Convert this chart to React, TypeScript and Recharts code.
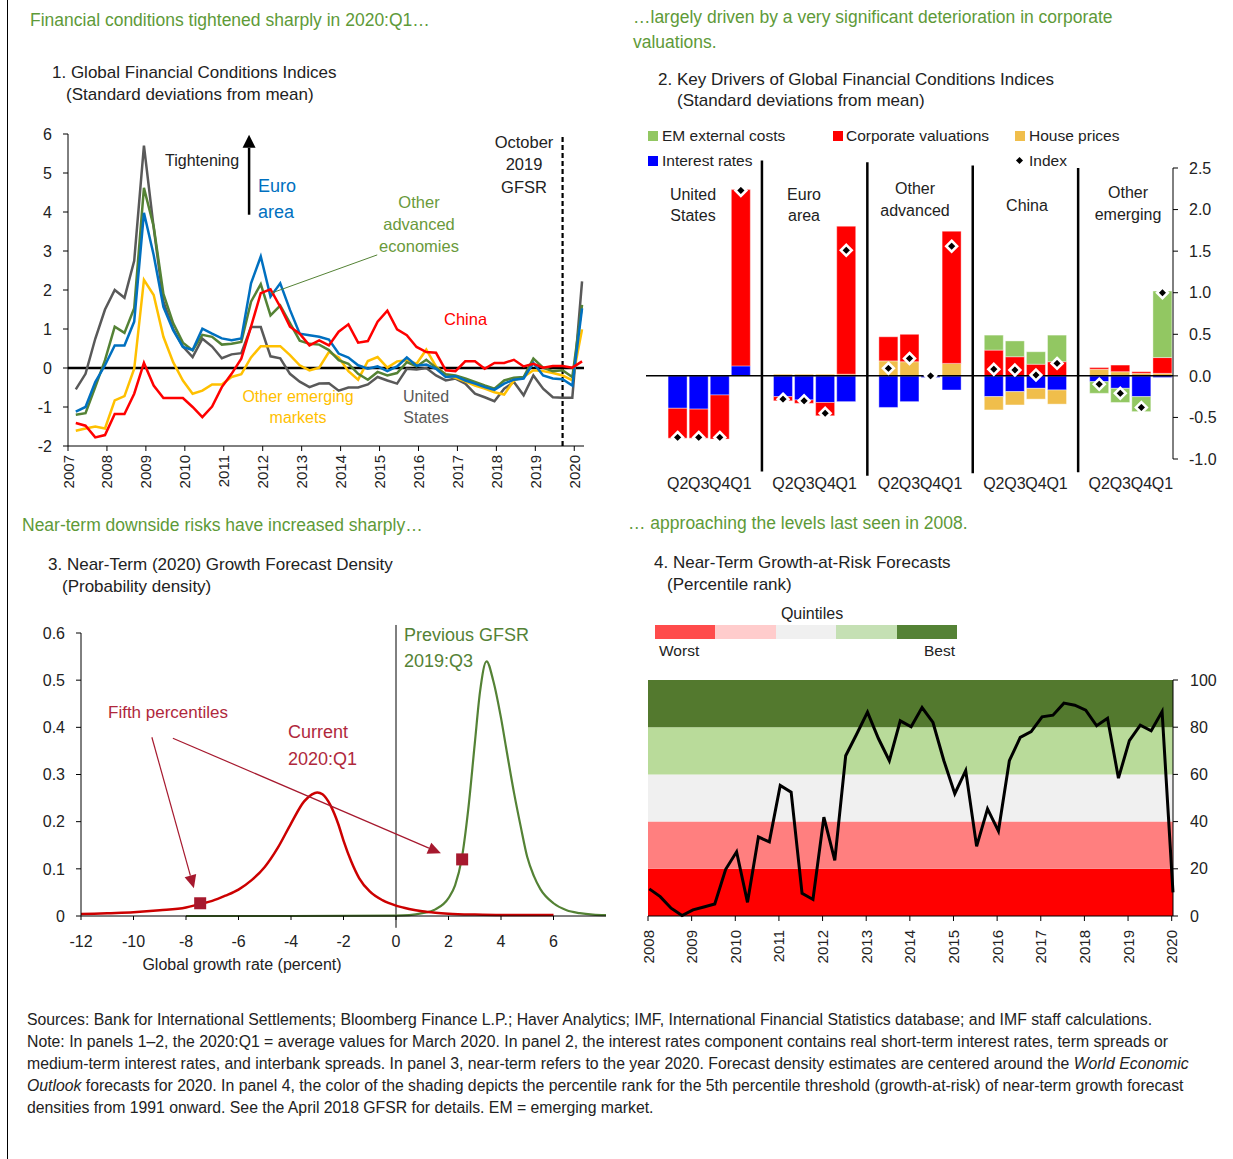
import React from "react";
import {
  ComposedChart,
  Line,
  Bar,
  Scatter,
  XAxis,
  YAxis,
  ReferenceLine,
  ReferenceArea,
} from "recharts";

const FONT = '"Liberation Sans", Arial, sans-serif';
const HEAD_GREEN = "#5E9A38";
const INK = "#222";

// ---------- Panel 1: FCIs, quarterly 2007:Q1 - 2020:Q1 ----------
const FCI_FIRST = 2007.2; // 2007:Q1 plotted at end of quarter
const fciUS = [
  -0.55, -0.15, 0.75, 1.5, 2.0, 1.8, 2.75, 5.7, 3.6, 1.7, 1.0, 0.55, 0.28, 0.75,
  0.55, 0.25, 0.35, 0.38, 1.05, 1.05, 0.3, 0.25, -0.15, -0.35, -0.49, -0.4, -0.39,
  -0.58, -0.5, -0.5, -0.42, -0.23, -0.32, -0.4, -0.02, -0.04, 0.0, -0.19, -0.32,
  -0.27, -0.4, -0.66, -0.75, -0.85, -0.53, -0.36, -0.7, -0.19, -0.53, -0.75, -0.76,
  -0.76, 2.22,
];
const fciEA = [
  -1.12, -1.0, -0.36, 0.07, 0.58, 0.58, 1.19, 3.98, 2.9, 1.57, 0.97, 0.54, 0.46,
  1.01, 0.88, 0.76, 0.71, 0.76, 2.17, 2.86, 1.83, 2.17, 1.49, 0.88, 0.84, 0.8, 0.73,
  0.37, 0.27, 0.07, -0.02, 0.04, -0.08, 0.04, 0.27, 0.06, 0.09, -0.02, -0.23, -0.21,
  -0.32, -0.4, -0.49, -0.56, -0.4, -0.3, -0.27, 0.13, -0.19, -0.27, -0.29, -0.45, 1.53,
];
const fciOA = [
  -1.2, -1.16, -0.49, 0.2, 1.06, 0.9, 1.53, 4.62, 3.63, 1.9, 1.15, 0.65, 0.45, 0.85,
  0.8, 0.6, 0.62, 0.67, 1.7, 2.15, 1.35, 1.6, 1.15, 0.7, 0.62, 0.6, 0.46, 0.2, 0.11,
  -0.15, -0.3, -0.1, -0.19, -0.13, 0.15, 0.04, 0.21, 0.01, -0.16, -0.19, -0.27,
  -0.36, -0.45, -0.53, -0.32, -0.25, -0.23, 0.24, 0.01, -0.08, -0.06, -0.23, 1.62,
];
const fciCN = [
  -1.41, -1.48, -1.78, -1.72, -1.18, -1.18, -0.66, 0.13, -0.45, -0.77, -0.77, -0.77,
  -1.0, -1.26, -0.99, -0.49, -0.15, 0.24, 1.06, 1.92, 2.02, 1.57, 1.06, 0.88, 0.58,
  0.71, 0.58, 0.93, 1.12, 0.65, 0.69, 1.19, 1.47, 0.99, 0.84, 0.54, 0.41, 0.39, -0.06,
  -0.08, 0.17, 0.17, -0.02, 0.13, 0.13, 0.21, 0.04, 0.11, 0.01, 0.05, 0.05, 0.01, 0.17,
];
const fciOEM = [
  -1.61, -1.55, -1.5, -1.55, -0.83, -0.72, -0.02, 2.26, 1.87, 0.8, 0.15, -0.32,
  -0.66, -0.58, -0.42, -0.42, -0.23, -0.16, 0.27, 0.56, 0.56, 0.56, 0.33, 0.07,
  -0.06, 0.01, 0.41, 0.27, -0.08, -0.3, 0.18, 0.28, 0.01, 0.17, 0.2, 0.11, 0.47,
  0.04, -0.17, -0.25, -0.34, -0.45, -0.53, -0.62, -0.68, -0.32, -0.23, -0.06, -0.08,
  -0.13, -0.19, -0.32, 0.99,
];
const fciYears = [2007, 2008, 2009, 2010, 2011, 2012, 2013, 2014, 2015, 2016, 2017, 2018, 2019, 2020];
const fciRows = fciUS.map((v, i) => ({
  t: FCI_FIRST + i * 0.25,
  us: v,
  ea: fciEA[i],
  oa: fciOA[i],
  cn: fciCN[i],
  oem: fciOEM[i],
}));

// ---------- Panel 2: drivers, Q2 2019 - Q1 2020 ----------
const driverGroups = ["US", "EA", "OA", "CN", "OEM"];
const driverQuarters = ["Q2", "Q3", "Q4", "Q1"];
const interestRates = [
  -0.39, -0.4, -0.23, 0.12, -0.25, -0.29, -0.32, -0.31, -0.38, -0.31, -0.02, -0.17,
  -0.25, -0.19, -0.15, -0.17, -0.07, -0.15, -0.25, -0.02,
];
const housePrices = [
  0, 0, 0, 0, 0.02, 0.02, 0.02, 0.02, 0.18, 0.17, 0, 0.15, -0.16, -0.16, -0.13, -0.17,
  0.08, 0.05, 0.03, 0.03,
];
const corpValuations = [
  -0.36, -0.35, -0.53, 2.12, -0.05, -0.04, -0.16, 1.78, 0.29, 0.33, 0.01, 1.59, 0.31,
  0.23, 0.14, 0.17, 0.02, 0.08, 0.02, 0.19,
];
const emExternal = [
  0, 0, 0, 0, 0, 0, 0, 0, 0, 0, 0, 0, 0.18, 0.19, 0.15, 0.32, -0.14, -0.17, -0.18, 0.8,
];
const fciIndex = [
  -0.74, -0.74, -0.74, 2.23, -0.28, -0.3, -0.45, 1.51, 0.09, 0.21, 0.0, 1.56, 0.08,
  0.07, 0.01, 0.15, -0.1, -0.21, -0.38, 1.0,
];
const driverTicks = [-1, -0.5, 0, 0.5, 1, 1.5, 2, 2.5];

const driverRows: any[] = [{ key: "pad", label: "" }];
driverGroups.forEach((g, gi) => {
  driverQuarters.forEach((q, qi) => {
    const i = gi * 4 + qi;
    driverRows.push({
      key: `${g}-${q}`,
      label: q,
      ir: interestRates[i],
      hp: housePrices[i],
      cv: corpValuations[i],
      em: emExternal[i],
      idx: fciIndex[i],
    });
  });
  if (gi < driverGroups.length - 1) driverRows.push({ key: `sep${gi}`, label: "" });
});
const sepTops = [2.59, 2.57, 2.53, 2.5];
const sepBottoms = [-1.15, -1.2, -1.17, -1.16];

// ---------- Panel 3: forecast densities ----------
const currentX = [
  -12, -11, -10, -9, -8, -7.5, -7, -6.5, -6, -5.5, -5, -4.5, -4, -3.5, -3.2, -3.0,
  -2.8, -2.5, -2.2, -2.0, -1.7, -1.4, -1.0, -0.5, 0, 0.5, 1, 1.5, 2, 3, 4, 5, 6,
];
const currentY = [
  0.004, 0.006, 0.008, 0.012, 0.018, 0.025, 0.032, 0.043, 0.056, 0.076, 0.104, 0.145,
  0.196, 0.243, 0.258, 0.262, 0.258, 0.235, 0.195, 0.16, 0.115, 0.08, 0.052, 0.033,
  0.022, 0.015, 0.01, 0.007, 0.005, 0.003, 0.002, 0.002, 0.002,
];
const previousX = [
  -8, -4, 0, 0.5, 1, 1.5, 2, 2.25, 2.5, 2.75, 3.0, 3.2, 3.45, 3.7, 4.0, 4.2, 4.5, 4.75,
  5.0, 5.25, 5.5, 6, 6.5, 7, 7.5, 8,
];
const previousY = [
  0, 0, 0.001, 0.002, 0.006, 0.014, 0.038, 0.065, 0.12, 0.225, 0.365, 0.475, 0.54, 0.5,
  0.42, 0.355, 0.26, 0.19, 0.125, 0.085, 0.057, 0.027, 0.012, 0.006, 0.003, 0.002,
];
const fifthX = [-7.46, 2.52];
const fifthY = [0.027, 0.12];
const densityXTicks = [-12, -10, -8, -6, -4, -2, 0, 2, 4, 6];
const densityYTicks = [0, 0.1, 0.2, 0.3, 0.4, 0.5, 0.6];

const currentRows = currentX.map((x, i) => ({ x, y: currentY[i] }));
const previousRows = previousX.map((x, i) => ({ x, y: previousY[i] }));
const fifthRows = fifthX.map((x, i) => ({ x, y: fifthY[i] }));

// ---------- Panel 4: growth-at-risk percentile rank, quarterly 2008:Q1 - 2020:Q1 ----------
const GAR_FIRST = 2008.03;
const garRank = [
  11.5, 8.2, 3.3, 0.2, 2.6, 3.8, 5.1, 19.8, 27.2, 5.8, 33.5, 31.4, 55.3, 52.5, 9.6, 7.0,
  41.9, 23.6, 67.9, 77, 86.4, 75.2, 65.8, 82.7, 80.2, 88.3, 82.0, 65.8, 51.8, 61.6, 29.5,
  45.4, 36.0, 65.8, 75.7, 78.1, 84.4, 85.1, 90.2, 89.3, 87.2, 80.6, 83.8, 58.4, 74.3,
  80.9, 78.5, 86.6, 10.0,
];
const garYears = [2008, 2009, 2010, 2011, 2012, 2013, 2014, 2015, 2016, 2017, 2018, 2019, 2020];
const quintileBands = [
  { from: 0, to: 20, color: "#FF0000" },
  { from: 20, to: 40, color: "#FF7F7F" },
  { from: 40, to: 60, color: "#F0F0F0" },
  { from: 60, to: 80, color: "#B9DB9A" },
  { from: 80, to: 100, color: "#53792E" },
];
const quintileLegend = ["#FF4B4B", "#FFCCCC", "#F0F0F0", "#C5E0B4", "#548235"];
const garRows = garRank.map((v, k) => ({ t: GAR_FIRST + k * 0.25, v }));

// ---------- helpers ----------
function T({ x, y, children, size = 16, color = INK, align = "left", style = {} }: any) {
  const shift = align === "center" ? "translateX(-50%)" : align === "right" ? "translateX(-100%)" : "none";
  return (
    <div
      style={{
        position: "absolute",
        left: x,
        top: y - size * 0.6,
        fontSize: size,
        lineHeight: `${size * 1.2}px`,
        color,
        whiteSpace: "nowrap",
        transform: shift,
        ...style,
      }}
    >
      {children}
    </div>
  );
}

const YearTick = ({ x, y, payload, dy = 4 }: any) => (
  <text
    transform={`translate(${x},${y + dy}) rotate(-90)`}
    textAnchor="end"
    dominantBaseline="central"
    fontSize={15}
    fill={INK}
  >
    {payload.value}
  </text>
);

const ArrowShape = ({ x1, y1, x2, y2, color = "#000", width = 1, hl = 12, hw = 6 }: any) => {
  if (x1 == null || x2 == null) return null;
  const dx = x2 - x1;
  const dy = y2 - y1;
  const len = Math.hypot(dx, dy) || 1;
  const ux = dx / len;
  const uy = dy / len;
  const bx = x2 - ux * hl;
  const by = y2 - uy * hl;
  const px = -uy * hw;
  const py = ux * hw;
  return (
    <g>
      <line x1={x1} y1={y1} x2={bx} y2={by} stroke={color} strokeWidth={width} />
      <polygon points={`${x2},${y2} ${bx + px},${by + py} ${bx - px},${by - py}`} fill={color} />
    </g>
  );
};

const Diamond = (props: any) => {
  const { cx, cy, value, index } = props;
  if (value == null || cy == null || Number.isNaN(cy)) return <g key={`dm-${index}`} />;
  const r = 5.4;
  return (
    <polygon
      key={`dm-${index}`}
      points={`${cx},${cy - r} ${cx + r},${cy} ${cx},${cy + r} ${cx - r},${cy}`}
      fill="#000"
      stroke="#fff"
      strokeWidth={2.6}
    />
  );
};

const Square = (props: any) => {
  const { cx, cy } = props;
  return <rect x={cx - 6} y={cy - 6} width={12} height={12} fill="#A6192E" />;
};

const QuarterTick = ({ x, y, payload }: any) => {
  const row = driverRows.find((r) => r.key === payload.value);
  return (
    <text x={x} y={y + 22} textAnchor="middle" fontSize={16} fill={INK}>
      {row ? row.label : ""}
    </text>
  );
};

export default function App() {
  return (
    <div
      style={{
        position: "absolute",
        left: 0,
        top: 0,
        width: 1233,
        height: 1159,
        background: "#fff",
        overflow: "hidden",
        fontFamily: FONT,
        color: INK,
      }}
    >
      <div style={{ position: "absolute", left: 7, top: 0, width: 1, height: 1159, background: "#000" }} />

      {/* headings */}
      <T x={30} y={20} size={17.5} color={HEAD_GREEN}>Financial conditions tightened sharply in 2020:Q1…</T>
      <T x={633} y={17} size={17.5} color={HEAD_GREEN}>…largely driven by a very significant deterioration in corporate</T>
      <T x={633} y={42} size={17.5} color={HEAD_GREEN}>valuations.</T>
      <T x={22} y={525} size={17.5} color={HEAD_GREEN}>Near-term downside risks have increased sharply…</T>
      <T x={628} y={523} size={17.5} color={HEAD_GREEN}>… approaching the levels last seen in 2008.</T>

      {/* panel titles */}
      <T x={52} y={73} size={17}>1. Global Financial Conditions Indices</T>
      <T x={66} y={95} size={17}>(Standard deviations from mean)</T>
      <T x={658} y={80} size={17}>2. Key Drivers of Global Financial Conditions Indices</T>
      <T x={677} y={101} size={17}>(Standard deviations from mean)</T>
      <T x={48} y={565} size={17}>3. Near-Term (2020) Growth Forecast Density</T>
      <T x={62} y={587} size={17}>(Probability density)</T>
      <T x={654} y={563} size={17}>4. Near-Term Growth-at-Risk Forecasts</T>
      <T x={667} y={585} size={17}>(Percentile rank)</T>

      {/* ---------- Panel 1 ---------- */}
      <div style={{ position: "absolute", left: 0, top: 0 }}>
        <ComposedChart width={600} height={500} data={fciRows} margin={{ top: 134, right: 16, left: 0, bottom: 0 }}>
          <XAxis
            dataKey="t"
            type="number"
            domain={[2007, 2020.25]}
            ticks={fciYears}
            interval={0}
            height={54}
            stroke="#000"
            tickSize={5}
            tick={(p: any) => <YearTick {...p} dy={2} />}
          />
          <YAxis
            domain={[-2, 6]}
            ticks={[-2, -1, 0, 1, 2, 3, 4, 5, 6]}
            interval={0}
            width={68}
            stroke="#000"
            tickSize={5}
            tickMargin={11}
            tick={{ fill: INK, fontSize: 16 }}
          />
          <ReferenceLine y={0} stroke="#000" strokeWidth={2.5} />
          <ReferenceLine x={2019.7} stroke="#000" strokeWidth={2.2} strokeDasharray="5 3" />
          <Line dataKey="us" stroke="#595959" strokeWidth={2.5} dot={false} isAnimationActive={false} />
          <Line dataKey="oem" stroke="#FFC000" strokeWidth={2.5} dot={false} isAnimationActive={false} />
          <Line dataKey="oa" stroke="#548235" strokeWidth={2.5} dot={false} isAnimationActive={false} />
          <Line dataKey="ea" stroke="#0070C0" strokeWidth={2.5} dot={false} isAnimationActive={false} />
          <Line dataKey="cn" stroke="#FF0000" strokeWidth={2.5} dot={false} isAnimationActive={false} />
          <ReferenceLine
            segment={[{ x: 2011.65, y: 3.93 }, { x: 2011.65, y: 5.98 }]}
            ifOverflow="visible"
            shape={(p: any) => <ArrowShape {...p} color="#000" width={2.5} hl={13} hw={6.5} />}
          />
          <ReferenceLine
            segment={[{ x: 2014.94, y: 2.9 }, { x: 2012.22, y: 1.92 }]}
            ifOverflow="visible"
            stroke="#548235"
            strokeWidth={1}
          />
        </ComposedChart>
      </div>
      <T x={165} y={161} size={16}>Tightening</T>
      <T x={258} y={187} size={18} color="#0070C0">Euro</T>
      <T x={258} y={213} size={18} color="#0070C0">area</T>
      <T x={419} y={203} size={16.5} color="#6A9A3B" align="center">Other</T>
      <T x={419} y={225} size={16.5} color="#6A9A3B" align="center">advanced</T>
      <T x={419} y={247} size={16.5} color="#6A9A3B" align="center">economies</T>
      <T x={444} y={320} size={16.5} color="#FF0000">China</T>
      <T x={298} y={397} size={16} color="#FFC000" align="center">Other emerging</T>
      <T x={298} y={418} size={16} color="#FFC000" align="center">markets</T>
      <T x={426} y={397} size={16} color="#595959" align="center">United</T>
      <T x={426} y={418} size={16} color="#595959" align="center">States</T>
      <T x={524} y={143} size={16.5} align="center">October</T>
      <T x={524} y={165} size={16.5} align="center">2019</T>
      <T x={524} y={188} size={16.5} align="center">GFSR</T>

      {/* ---------- Panel 2 ---------- */}
      <div style={{ position: "absolute", left: 640, top: 0 }}>
        <ComposedChart
          width={593}
          height={500}
          data={driverRows}
          stackOffset="sign"
          barCategoryGap={1}
          margin={{ top: 168, right: 0, left: 6, bottom: 0 }}
        >
          <XAxis dataKey="key" height={41} axisLine={false} tickLine={false} interval={0} tick={QuarterTick} />
          <YAxis
            orientation="right"
            domain={[-1, 2.5]}
            ticks={driverTicks}
            interval={0}
            width={60}
            stroke="#000"
            tickSize={5}
            tickMargin={11}
            tickFormatter={(v: number) => v.toFixed(1)}
            tick={{ fill: INK, fontSize: 16 }}
          />
          <Bar dataKey="ir" stackId="d" fill="#0000FF" stroke="#fff" strokeOpacity={0.5} strokeWidth={0.8} isAnimationActive={false} />
          <Bar dataKey="hp" stackId="d" fill="#F0BE4B" stroke="#fff" strokeOpacity={0.5} strokeWidth={0.8} isAnimationActive={false} />
          <Bar dataKey="cv" stackId="d" fill="#FF0000" stroke="#fff" strokeOpacity={0.5} strokeWidth={0.8} isAnimationActive={false} />
          <Bar dataKey="em" stackId="d" fill="#92C762" stroke="#fff" strokeOpacity={0.5} strokeWidth={0.8} isAnimationActive={false} />
          <ReferenceLine y={0} stroke="#000" strokeWidth={1.5} />
          {sepTops.map((top, i) => (
            <ReferenceLine
              key={`sep${i}`}
              segment={[{ x: `sep${i}`, y: top }, { x: `sep${i}`, y: sepBottoms[i] }]}
              ifOverflow="visible"
              stroke="#000"
              strokeWidth={2.5}
            />
          ))}
          <Line dataKey="idx" stroke="none" dot={Diamond} activeDot={false} legendType="none" isAnimationActive={false} />
        </ComposedChart>
      </div>
      {/* panel 2 legend */}
      <div style={{ position: "absolute", left: 648, top: 131, width: 10, height: 10, background: "#92C762" }} />
      <T x={662} y={136} size={15.5}>EM external costs</T>
      <div style={{ position: "absolute", left: 833, top: 131, width: 10, height: 10, background: "#FF0000" }} />
      <T x={846} y={136} size={15.5}>Corporate valuations</T>
      <div style={{ position: "absolute", left: 1015, top: 131, width: 10, height: 10, background: "#F0BE4B" }} />
      <T x={1029} y={136} size={15.5}>House prices</T>
      <div style={{ position: "absolute", left: 648, top: 156, width: 10, height: 10, background: "#0000FF" }} />
      <T x={662} y={161} size={15.5}>Interest rates</T>
      <div
        style={{ position: "absolute", left: 1017, top: 158, width: 5, height: 5, background: "#000", transform: "rotate(45deg)" }}
      />
      <T x={1029} y={161} size={15.5}>Index</T>
      {/* group labels */}
      <T x={693} y={195} size={16} align="center">United</T>
      <T x={693} y={216} size={16} align="center">States</T>
      <T x={804} y={195} size={16} align="center">Euro</T>
      <T x={804} y={216} size={16} align="center">area</T>
      <T x={915} y={189} size={16} align="center">Other</T>
      <T x={915} y={211} size={16} align="center">advanced</T>
      <T x={1027} y={206} size={16} align="center">China</T>
      <T x={1128} y={193} size={16} align="center">Other</T>
      <T x={1128} y={215} size={16} align="center">emerging</T>

      {/* ---------- Panel 3 ---------- */}
      <div style={{ position: "absolute", left: 0, top: 600 }}>
        <ComposedChart width={620} height={380} margin={{ top: 33, right: 14, left: 0, bottom: 24 }}>
          <XAxis
            dataKey="x"
            type="number"
            domain={[-12, 8]}
            ticks={densityXTicks}
            interval={0}
            height={40}
            stroke="#000"
            tickSize={4}
            tickMargin={16}
            tick={{ fill: INK, fontSize: 16 }}
          />
          <YAxis
            type="number"
            domain={[0, 0.6]}
            ticks={densityYTicks}
            interval={0}
            width={81}
            stroke="#000"
            tickSize={5}
            tickMargin={11}
            tickFormatter={(v: number) => (v === 0 ? "0" : v.toFixed(1))}
            tick={{ fill: INK, fontSize: 16 }}
          />
          <ReferenceLine
            segment={[{ x: 0, y: -0.025 }, { x: 0, y: 0.617 }]}
            ifOverflow="visible"
            stroke="#000"
            strokeWidth={1}
          />
          <Line data={previousRows} dataKey="y" type="monotone" stroke="#548235" strokeWidth={2.2} dot={false} isAnimationActive={false} />
          <Line data={currentRows} dataKey="y" type="monotone" stroke="#CC0000" strokeWidth={2.5} dot={false} isAnimationActive={false} />
          <Scatter data={fifthRows} dataKey="y" shape={Square} isAnimationActive={false} />
          <ReferenceLine
            segment={[{ x: -9.3, y: 0.379 }, { x: -7.7, y: 0.059 }]}
            ifOverflow="visible"
            shape={(p: any) => <ArrowShape {...p} color="#A6192E" width={1.2} hl={13} hw={6} />}
          />
          <ReferenceLine
            segment={[{ x: -8.5, y: 0.377 }, { x: 1.71, y: 0.133 }]}
            ifOverflow="visible"
            shape={(p: any) => <ArrowShape {...p} color="#A6192E" width={1.2} hl={13} hw={6} />}
          />
        </ComposedChart>
      </div>
      <T x={108} y={713} size={17} color="#B0283C">Fifth percentiles</T>
      <T x={288} y={733} size={18} color="#B0283C">Current</T>
      <T x={288} y={760} size={18} color="#B0283C">2020:Q1</T>
      <T x={404} y={636} size={18} color="#548235">Previous GFSR</T>
      <T x={404} y={662} size={18} color="#548235">2019:Q3</T>
      <T x={242} y={965} size={16} align="center">Global growth rate (percent)</T>

      {/* ---------- Panel 4 ---------- */}
      <div style={{ position: "absolute", left: 640, top: 600 }}>
        <ComposedChart width={593} height={380} data={garRows} margin={{ top: 80, right: 0, left: 8, bottom: 4 }}>
          <XAxis
            dataKey="t"
            type="number"
            domain={[2008, 2020.03]}
            ticks={garYears}
            interval={0}
            height={60}
            stroke="#000"
            tickSize={5}
            tick={(p: any) => <YearTick {...p} dy={7} />}
          />
          <YAxis
            orientation="right"
            domain={[0, 100]}
            ticks={[0, 20, 40, 60, 80, 100]}
            interval={0}
            width={60}
            stroke="#000"
            tickSize={5}
            tickMargin={12}
            tick={{ fill: INK, fontSize: 16 }}
          />
          {quintileBands.map((b) => (
            <ReferenceArea key={b.from} y1={b.from} y2={b.to} fill={b.color} fillOpacity={1} stroke="none" />
          ))}
          <Line dataKey="v" type="linear" stroke="#000" strokeWidth={3} dot={false} isAnimationActive={false} />
        </ComposedChart>
      </div>
      <T x={812} y={614} size={16} align="center">Quintiles</T>
      {quintileLegend.map((c, i) => (
        <div
          key={c}
          style={{ position: "absolute", left: 655 + i * 60.4, top: 625, width: 60.4, height: 14, background: c }}
        />
      ))}
      <T x={659} y={651} size={15.5}>Worst</T>
      <T x={955} y={651} size={15.5} align="right">Best</T>

      {/* ---------- footer ---------- */}
      <T x={27} y={1020} size={15.8}>
        Sources: Bank for International Settlements; Bloomberg Finance L.P.; Haver Analytics; IMF, International Financial Statistics database; and IMF staff calculations.
      </T>
      <T x={27} y={1042} size={15.8}>
        Note: In panels 1–2, the 2020:Q1 = average values for March 2020. In panel 2, the interest rates component contains real short-term interest rates, term spreads or
      </T>
      <T x={27} y={1064} size={15.8}>
        medium-term interest rates, and interbank spreads. In panel 3, near-term refers to the year 2020. Forecast density estimates are centered around the <i>World Economic</i>
      </T>
      <T x={27} y={1086} size={15.8}>
        <i>Outlook</i> forecasts for 2020. In panel 4, the color of the shading depicts the percentile rank for the 5th percentile threshold (growth-at-risk) of near-term growth forecast
      </T>
      <T x={27} y={1108} size={15.8}>
        densities from 1991 onward. See the April 2018 GFSR for details. EM = emerging market.
      </T>
    </div>
  );
}
